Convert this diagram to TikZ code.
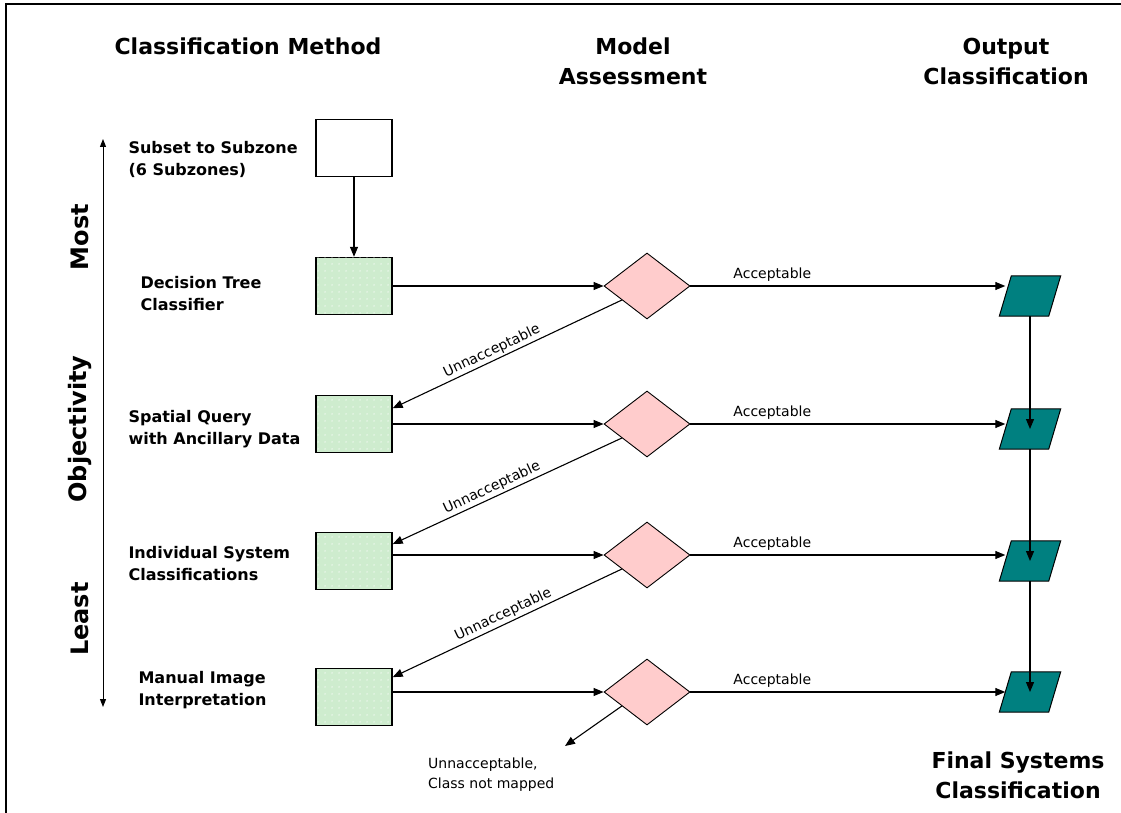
\documentclass[tikz,border=0pt]{standalone}
\usepackage{fontspec}
\setmainfont{DejaVu Sans}
\usetikzlibrary{arrows.meta,shapes.geometric,calc,patterns.meta}
\definecolor{boxgreen}{RGB}{206,236,206}
\definecolor{pinkfill}{RGB}{255,204,204}
\definecolor{tealfill}{RGB}{0,128,128}
\begin{document}
\begin{tikzpicture}[x=1pt,y=-1pt,
  conn/.style={draw, line width=1.1pt, -{Triangle[length=10pt,width=8pt]}},
  mbox/.style={draw, line width=1.4pt, minimum width=76pt, minimum height=57pt, inner sep=0pt},
  gbox/.style={mbox, fill=boxgreen, postaction={pattern={Dots[distance=6.5pt,radius=0.7pt]}, pattern color=white}},
  dia/.style={diamond, draw, line width=0.9pt, fill=pinkfill, minimum width=86pt, minimum height=66pt, inner sep=0pt},
  parabox/.style={rectangle, minimum width=61pt, minimum height=40pt, inner sep=0pt},
  parashape/.style={draw, line width=1pt, fill=tealfill},
  head/.style={font=\fontsize{22}{30}\selectfont\bfseries, align=center},
  side/.style={font=\fontsize{24}{28}\selectfont\bfseries, rotate=90},
  mlbl/.style={font=\fontsize{16}{22}\selectfont\bfseries, align=left, anchor=west},
  lbl/.style={font=\fontsize{14}{20}\selectfont, inner sep=2pt}
]
\useasboundingbox (0,0) rectangle (1121,813);
% frame
\draw[line width=1.5pt] (6,813) -- (6,4) -- (1121,4);

% headers
\node[head] (h1) at (248,46) {Classification Method};
\node[head] (h2) at (633,61) {Model\\Assessment};
\node[head] (h3) at (1006,61) {Output\\Classification};
\node[head] (h4) at (1018,775) {Final Systems\\Classification};

% objectivity axis
\coordinate (axtop) at (103,139);
\coordinate (axbot) at (103,707);
\draw[line width=1pt, {Triangle[length=8pt,width=6pt]}-{Triangle[length=8pt,width=6pt]}] (axtop) -- (axbot);
\node[side] (most) at (80,237) {Most};
\node[side] (obj) at (80,429) {Objectivity};
\node[side] (least) at (80,619) {Least};

% left labels
\node[mlbl] (l0) at (125,159) {Subset to Subzone\\(6 Subzones)};
\node[mlbl] (l1) at (137,294) {Decision Tree\\Classifier};
\node[mlbl] (l2) at (125,429) {Spatial Query\\with Ancillary Data};
\node[mlbl] (l3) at (125,564) {Individual System\\Classifications};
\node[mlbl] (l4) at (135,690) {Manual Image\\Interpretation};

% boxes
\node[mbox] (b0) at (354,148) {};
\node[gbox] (b1) at (354,286) {};
\node[gbox] (b2) at (354,424) {};
\node[gbox] (b3) at (354,561) {};
\node[gbox] (b4) at (354,697) {};

% diamonds
\node[dia] (d1) at (647,286) {};
\node[dia] (d2) at (647,424) {};
\node[dia] (d3) at (647,555) {};
\node[dia] (d4) at (647,692) {};

% parallelograms
\foreach \i/\y in {1/296,2/429,3/561,4/692}{
  \node[parabox] (p\i) at (1030,\y) {};
  \draw[parashape] (p\i.south west) -- ($(p\i.north west)+(12,0)$) -- (p\i.north east) -- ($(p\i.south east)+(-12,0)$) -- cycle;
  \coordinate (pin\i) at ($(p\i.west)+(6,0)$);
}

% connectors
\draw[conn] (b0.south) -- (b1.north);
\draw[conn] (b1.east) -- (d1.west);
\draw[conn] (b2.east) -- (d2.west);
\draw[conn] (d3.west -| b3.east) -- (d3.west);
\draw[conn] (d4.west -| b4.east) -- (d4.west);

\draw[conn] (d1.east) -- node[lbl, pos=0.26, above=2pt] {Acceptable} (d1.east -| pin1);
\draw[conn] (d2.east) -- node[lbl, pos=0.26, above=2pt] {Acceptable} (d2.east -| pin2);
\draw[conn] (d3.east) -- node[lbl, pos=0.26, above=2pt] {Acceptable} (d3.east -| pin3);
\draw[conn] (d4.east) -- node[lbl, pos=0.26, above=2pt] {Acceptable} (d4.east -| pin4);

\draw[conn] ($(d1.west)!0.42!(d1.south)$) -- node[lbl, sloped, above, pos=0.55] {Unnacceptable} ($(b2.north east)!0.23!(b2.south east)$);
\draw[conn] ($(d2.west)!0.42!(d2.south)$) -- node[lbl, sloped, above, pos=0.55] {Unnacceptable} ($(b3.north east)!0.21!(b3.south east)$);
\draw[conn] ($(d3.west)!0.42!(d3.south)$) -- node[lbl, sloped, above, pos=0.5] {Unnacceptable} ($(b4.north east)!0.16!(b4.south east)$);

\coordinate (lost) at (565,746);
\draw[conn] ($(d4.west)!0.42!(d4.south)$) -- (lost);
\node[lbl, align=left, anchor=west] (lostlbl) at (426,775) {Unnacceptable,\\Class not mapped};

\draw[conn] (p1.south) -- (p2.center);
\draw[conn] (p2.south) -- (p3.center);
\draw[conn] (p3.south) -- (p4.center);
\end{tikzpicture}
\end{document}
